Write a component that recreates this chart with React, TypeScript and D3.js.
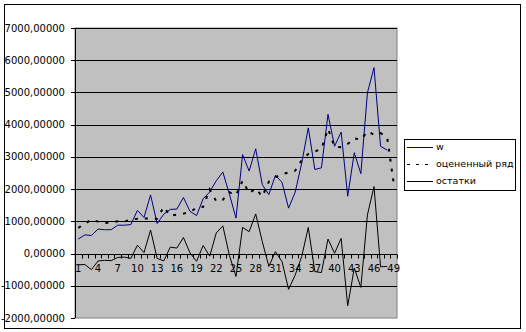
import React from "react";
import * as d3 from "d3";

const categories: number[] = Array.from({ length: 49 }, (_, i) => i + 1);

const wValues: (number | null)[] = [
  450, 580, 560, 760, 740, 740, 880, 880, 900, 1340,
  1120, 1820, 930, 1220, 1370, 1380, 1740, 1310, 1180, 1700,
  1910, 2260, 2530, 1840, 1100, 3070, 2560, 3250, 2140, 1830,
  2430, 2210, 1410, 1900, 2810, 3900, 2610, 2660, 4320, 3330,
  3770, 1780, 3130, 2480, 4990, 5770, 3330, 3210, null,
];

const fittedValues: (number | null)[] = [
  800, 920, 1060, 990, 950, 960, 1000, 990, 1050, 1080,
  1090, 1090, 1080, 1450, 1170, 1210, 1240, 1290, 1420, 1450,
  1990, 1620, 1670, 1900, 1810, 2260, 1880, 2020, 1770, 2230,
  2370, 2460, 2520, 2570, 2900, 3090, 3170, 3250, 3870, 3320,
  3300, 3400, 3580, 3530, 3790, 3690, 3740, 3610, 2180,
];

const residualValues: (number | null)[] = [
  -350, -340, -500, -230, -210, -220, -120, -110, -150, 260,
  30, 730, -150, -230, 200, 170, 500, 20, -240, 250,
  -80, 640, 860, -60, -710, 810, 680, 1230, 370, -400,
  60, -250, -1110, -670, -90, 810, -560, -590, 450, 10,
  470, -1620, -450, -1050, 1200, 2080, -410, -400, null,
];

const yTicks: number[] = [-2000, -1000, 0, 1000, 2000, 3000, 4000, 5000, 6000, 7000];
const xLabelEvery = 3;
const legendLabels: string[] = ["w", "оцененный ряд", "остатки"];

const W = 526;
const H = 332;
const plot = { left: 75, top: 28, right: 397, bottom: 318 };
const FONT = "'DejaVu Sans', Verdana, sans-serif";

export default function App() {
  const x = d3
    .scaleBand<number>()
    .domain(categories)
    .range([plot.left, plot.right])
    .padding(0);
  const cx = (c: number) => (x(c) as number) + x.bandwidth() / 2;
  const y = d3.scaleLinear().domain([-2000, 7000]).range([plot.bottom, plot.top]);

  const mkLine = (vals: (number | null)[]) =>
    d3
      .line<number>()
      .defined((_, i) => vals[i] !== null)
      .x((c) => cx(c))
      .y((_, i) => y(vals[i] as number))(categories) || "";

  const fmt = (v: number) => v.toFixed(5).replace(".", ",");
  const y0 = y(0);

  const series = [
    { vals: wValues, color: "#000080", dash: undefined as string | undefined, width: 1 },
    { vals: fittedValues, color: "#000000", dash: "3 7", width: 2 },
    { vals: residualValues, color: "#000000", dash: undefined as string | undefined, width: 1 },
  ];

  const legendRows = [147, 164, 181];

  return (
    <svg
      width={W}
      height={H}
      style={{ position: "absolute", left: 0, top: 0, background: "#fff" }}
      fontFamily={FONT}
    >
      <rect x={4.5} y={4.5} width={516} height={324} fill="#fff" stroke="#000" strokeWidth={1} />
      <rect
        x={plot.left}
        y={plot.top}
        width={plot.right - plot.left}
        height={plot.bottom - plot.top}
        fill="#C0C0C0"
        stroke="#808080"
        strokeWidth={1}
      />
      {yTicks.map((t) => (
        <g key={t}>
          {t !== -2000 && (
            <line
              x1={plot.left}
              x2={plot.right}
              y1={Math.round(y(t)) + 0.5}
              y2={Math.round(y(t)) + 0.5}
              stroke="#000"
              strokeWidth={1}
            />
          )}
          <line
            x1={plot.left - 4}
            x2={plot.left}
            y1={Math.round(y(t)) + 0.5}
            y2={Math.round(y(t)) + 0.5}
            stroke="#000"
          />
          <text
            x={65}
            y={y(t)}
            dy="0.35em"
            textAnchor="end"
            fontSize={10}
            fill="#000"
          >
            {fmt(t)}
          </text>
        </g>
      ))}
      <line x1={plot.left + 0.5} x2={plot.left + 0.5} y1={plot.top} y2={plot.bottom} stroke="#000" />
      {categories.concat([categories.length + 1]).map((c, i) => {
        const xx = plot.left + i * x.bandwidth();
        return (
          <line
            key={"t" + c}
            x1={Math.round(xx) + 0.5}
            x2={Math.round(xx) + 0.5}
            y1={Math.round(y0) + 0.5}
            y2={Math.round(y0) + 4.5}
            stroke="#000"
          />
        );
      })}
      {categories
        .filter((c) => (c - 1) % xLabelEvery === 0)
        .map((c) => (
          <text key={"l" + c} x={cx(c)} y={272} textAnchor="middle" fontSize={10} fill="#000">
            {c}
          </text>
        ))}
      {series.map((s, i) => (
        <path
          key={i}
          d={mkLine(s.vals)}
          fill="none"
          stroke={s.color}
          strokeWidth={s.width}
          strokeDasharray={s.dash}
        />
      ))}
      <rect x={404.5} y={139.5} width={111} height={51} fill="#fff" stroke="#000" strokeWidth={1} />
      {series.map((s, i) => (
        <g key={"lg" + i}>
          <line
            x1={407}
            x2={433}
            y1={legendRows[i] + 0.5}
            y2={legendRows[i] + 0.5}
            stroke={s.color}
            strokeWidth={i === 1 ? 1 : s.width}
            strokeDasharray={i === 1 ? "3 6" : undefined}
          />
          <text x={436} y={legendRows[i]} dy="0.35em" fontSize={9.5} fill="#000">
            {legendLabels[i]}
          </text>
        </g>
      ))}
    </svg>
  );
}
